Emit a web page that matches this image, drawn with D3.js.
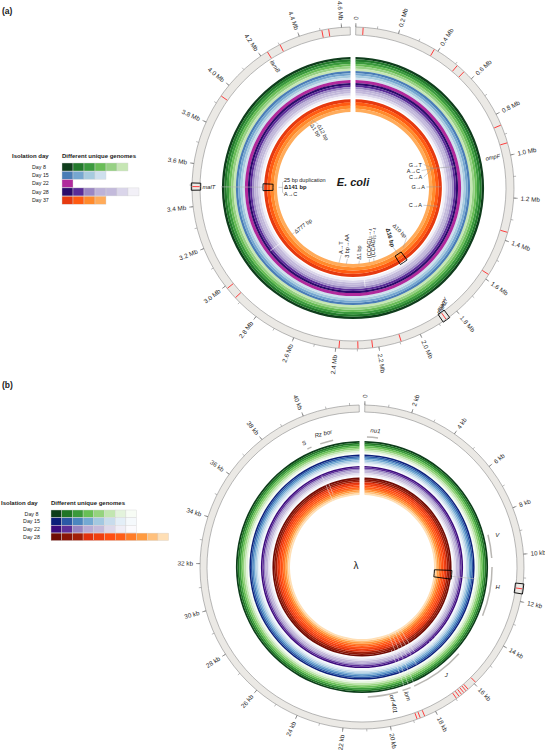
<!DOCTYPE html>
<html><head><meta charset="utf-8">
<script src="https://cdn.jsdelivr.net/npm/d3@7"></script>
<style>
body{margin:0;background:#fff}
text{font-family:"Liberation Sans",Arial,Helvetica,"DejaVu Sans",sans-serif;fill:#1a1a1a}
</style></head>
<body><svg id="c" width="545" height="750"></svg>
<script>
// ================= DATA =================
// ---- Panel (a): E. coli ----
const aGenomeLength = 4.64;
const aTickValues = [0,0.2,0.4,0.6,0.8,1.0,1.2,1.4,1.6,1.8,2.0,2.2,2.4,2.6,2.8,3.0,3.2,3.4,3.6,3.8,4.0,4.2,4.4,4.6];
const aTickLabels = ["0","0.2 Mb","0.4 Mb","0.6 Mb","0.8 Mb","1.0 Mb","1.2 Mb","1.4 Mb","1.6 Mb","1.8 Mb","2.0 Mb","2.2 Mb","2.4 Mb","2.6 Mb","2.8 Mb","3.0 Mb","3.2 Mb","3.4 Mb","3.6 Mb","3.8 Mb","4.0 Mb","4.2 Mb","4.4 Mb","4.6 Mb"];
const aDays = ["Day 8","Day 15","Day 22","Day 28","Day 37"];
const aDay8 = ["#0f3d1c","#237a2c","#3b9a3e","#69bd57","#97d184","#c6e6b4"];
const aDay15 = ["#4a7db6","#76a7d0","#a7cbdf","#cfe0ee"];
const aDay22 = ["#b02a9c"];
const aDay28 = ["#2a0b6a","#5a2c98","#9b87c3","#bdb2d8","#c3badb","#dad5ea","#f2f0f7"];
const aDay37 = ["#e63a10","#ff5b12","#ff8a2c","#ffab5a"];
const aRedMarks = [0.034,0.381,0.511,0.553,0.855,0.942,1.361,1.575,1.862,2.094,2.229,2.297,2.385,2.929,2.986,3.493,3.939,4.236,4.303,4.508,4.540];
const aBoxPositions = [3.493, 1.862];
const aInnerBoxPositions = [3.493, 1.875];
const aGeneNames = ["lamB","ompF","malT","manY","manZ"];
const aGenePos   = [4.230, 0.993, 3.493, 1.830, 1.850];
// annotations: text, position (Mb), radius, rotation, anchor, bold, dy
const aNoteText = ["Δ1 bp","Δ12 bp","Δ777 bp","A→T","3 bp→AA","Δ1 bp","(CCAG)₃→₄","(CCAG)₃→₄","Δ16 bp","Δ10 bp","G→T","A→C","C→A","G→A","C→A","25 bp duplication","Δ141 bp","A→C"];
const aNotePos  = [4.225,4.284,3.004,2.450,2.378,2.255,2.152,2.106,1.878,1.708,0.915,0.969,1.037,1.143,1.332,3.493,3.493,3.493];
const aNoteR    = [76,72,73,67,70,72,72,72,71,72,72.7,69,70,72,71,69,69,69];
const aNoteRot  = [57,61,-37,-90,-90,-90,-90,-90,75,45,0,0,0,0,0,0,0,0];
const aNoteAnchor = ["start","start","start","start","start","start","start","start","end","end","end","end","end","end","end","start","start","start"];
const aNoteBold = [0,0,0,0,0,0,0,0,1,0,0,0,0,0,0,0,1,0];
const aNoteDy   = [0,0,0,0,0,0,0,0,0,0,0,0,0,0,0,-7,0,7];

// ---- Panel (b): lambda ----
const bGenomeLength = 42.4;
const bTickValues = [0,2,4,6,8,10,12,14,16,18,20,22,24,26,28,30,32,34,36,38,40];
const bTickLabels = ["0","2 kb","4 kb","6 kb","8 kb","10 kb","12 kb","14 kb","16 kb","18 kb","20 kb","22 kb","24 kb","26 kb","28 kb","30 kb","32 kb","34 kb","36 kb","38 kb","40 kb"];
const bDays = ["Day 8","Day 15","Day 22","Day 28"];
const bDay8 = ["#0d3d1a","#207526","#3b9a3b","#68bf56","#95d37e","#c2e6b1","#e3f3dc","#f7fcf5"];
const bDay15 = ["#0c1f7a","#2c58a6","#4c86bf","#74a9d3","#a3c8e0","#c8dcec","#e3eef7","#f5f9fc"];
const bDay22 = ["#3b0b7c","#5e2f99","#9885c1","#b8acd5","#c4bada","#ddd8ea","#efedf6","#fbfafd"];
const bDay28 = ["#6f0b04","#891507","#a21f08","#e1320e","#f03f10","#ff4f13","#ff5e18","#ff7c28","#ff9b40","#ffc07c","#ffdfb5"];
const bRedMarks = [11.46,15.92,16.35,16.46,16.58,16.70,16.83,16.97,18.50,18.70,18.84];
const bBoxPos = 11.46;
const bInnerBoxPos = 11.13;
const bGenes = ["nu1","S","Rz bor","V","H","J","lom","orf-401"];
const bGeneStart = [0.14,39.58,40.30,8.84,10.54,15.50,18.60,19.30];
const bGeneEnd   = [0.72,39.81,41.00,10.07,13.15,18.40,19.05,20.90];
const bGeneLabelPos = [0.55,39.55,40.60,8.98,11.52,16.70,18.90,19.65];
const bGeneLabelR   = [137,137,139,139,137,137,132,131];
const bGeneLabelRot = [5,-24,-14,0,0,0,71,78];
const bGeneLabelAnchor = ["middle","middle","middle","middle","middle","middle","start","start"];
// mutation lines inside rings: position (kb), inner radius, outer radius
const bMutPos = [17.45,17.75,18.05,18.35,18.65,18.90,15.70,15.95,16.20,16.45,39.70,39.95];
const bMutR0  = [72,72,72,76,72,88,100,100,100,100,72,78];
const bMutR1  = [100,112,100,126,126,126,106,104,106,104,100,90];

// ================= LAYOUT =================
const svg = d3.select("#c");
const deg = Math.PI/180;
function pt(cx,cy,r,a){ return [cx + r*Math.sin(a), cy - r*Math.cos(a)]; }

function drawPanel(o){
  const g = svg.append("g");
  const {cx,cy} = o;
  const A = d3.scaleLinear().domain([0,o.len]).range([1*deg,359*deg]);
  g.append("path").attr("d", d3.arc()({innerRadius:o.rIn, outerRadius:o.rOut, startAngle:A(0), endAngle:359*deg}))
    .attr("transform",`translate(${cx},${cy})`).attr("fill","#ebe9e5").attr("stroke","#8c8c8c").attr("stroke-width",0.6);
  const minor = d3.range(0, o.len, o.minorStep);
  g.selectAll(null).data(minor).enter().append("line")
    .each(function(v){ const a=A(v); const p0=pt(cx,cy,o.rOut,a), p1=pt(cx,cy,o.rOut+2.5,a);
      d3.select(this).attr("x1",p0[0]).attr("y1",p0[1]).attr("x2",p1[0]).attr("y2",p1[1]); })
    .attr("stroke","#777").attr("stroke-width",0.5);
  g.selectAll(null).data(o.ticks).enter().append("line")
    .each(function(v){ const a=A(v); const p0=pt(cx,cy,o.rOut,a), p1=pt(cx,cy,o.rOut+4,a);
      d3.select(this).attr("x1",p0[0]).attr("y1",p0[1]).attr("x2",p1[0]).attr("y2",p1[1]); })
    .attr("stroke","#666").attr("stroke-width",0.6);
  o.ticks.forEach((v,i)=>{
    const a=A(v), d=a/deg; const p=pt(cx,cy,o.rOut+7,a);
    let rot, anc; if(d<=180){rot=d-90;anc="start";} else {rot=d+90;anc="end";}
    g.append("text").attr("transform",`translate(${p[0]},${p[1]}) rotate(${rot})`)
      .attr("text-anchor",anc).attr("dy","0.35em").attr("font-size",6.3).style("fill","#2a2a2a").text(o.tickLabels[i]);
  });
  g.selectAll(null).data(o.red).enter().append("line")
    .each(function(v){ const a=A(v); const p0=pt(cx,cy,o.rIn+0.4,a), p1=pt(cx,cy,o.rOut-0.4,a);
      d3.select(this).attr("x1",p0[0]).attr("y1",p0[1]).attr("x2",p1[0]).attr("y2",p1[1]); })
    .attr("stroke","#ff2a2a").attr("stroke-width",0.9);
  const tg = g.append("g").attr("transform",`translate(${cx},${cy})`);
  o.groups.forEach((cols,gi)=>{
    const [ro,ri] = o.radii[gi]; const w=(ro-ri)/cols.length;
    cols.forEach((c,k)=>{
      tg.append("path").attr("d", d3.arc().padAngle(5/100).padRadius(100)({innerRadius:ro-(k+1)*w, outerRadius:ro-k*w+0.08, startAngle:0, endAngle:2*Math.PI-1e-4}))
        .attr("fill",c);
    });
  });
  return {g,A};
}

function boxAt(g,cx,cy,a,r0,r1,half){
  g.append("path").attr("d", d3.arc()({innerRadius:r0, outerRadius:r1, startAngle:a-half, endAngle:a+half}))
    .attr("transform",`translate(${cx},${cy})`).attr("fill","none").attr("stroke","#000").attr("stroke-width",0.9);
}
function seg(g,cx,cy,a0,r0,a1,r1,color,w){
  const p0=pt(cx,cy,r0,a0), p1=pt(cx,cy,r1,a1);
  g.append("line").attr("x1",p0[0]).attr("y1",p0[1]).attr("x2",p1[0]).attr("y2",p1[1]).attr("stroke",color).attr("stroke-width",w||0.5);
}

// ================= PANEL A =================
const PA = {cx:353, cy:188, len:aGenomeLength, rIn:153, rOut:161, ticks:aTickValues, tickLabels:aTickLabels, minorStep:0.1,
  red:aRedMarks, groups:[aDay8,aDay15,aDay22,aDay28,aDay37],
  radii:[[131,117],[117,108],[108,105],[105,90.3],[88.8,76]]};
const pa = drawPanel(PA);
{
  const g=pa.g, A=pa.A, cx=PA.cx, cy=PA.cy;
  seg(g,cx,cy,A(3.004),90.5,A(3.004),104,"#ffffff",0.6);
  seg(g,cx,cy,A(2.229),92,A(2.229),100,"#ffffff",0.6);
  seg(g,cx,cy,A(3.493),90,A(3.493),132,"#b5b5b5",0.6);
  const conv=[A(0.975),82.5];
  [[0.915,74.5],[0.969,70.8],[1.037,71.8]].forEach(d=>seg(g,cx,cy,A(d[0]),d[1],conv[0],conv[1],"#999",0.45));
  seg(g,cx,cy,conv[0],conv[1],A(1.0),104,"#999",0.5);
  seg(g,cx,cy,A(1.143),73.5,A(1.143),88,"#999",0.5);
  seg(g,cx,cy,A(1.332),72.5,A(1.310),87,"#999",0.5);
  [[2.450,67],[2.378,70],[2.255,72],[2.152,72],[2.106,72]].forEach(d=>seg(g,cx,cy,A(d[0]),d[1]+1,A(d[0])+0.6*deg,76.5,"#999",0.45));
  seg(g,cx,cy,A(1.878),71.5,A(1.875),80,"#999",0.45);
  seg(g,cx,cy,A(1.708),73,A(1.80),78,"#999",0.45);
  seg(g,cx,cy,A(3.004),73.5,A(3.004),77,"#999",0.45);
  seg(g,cx,cy,A(4.225),76.5,A(4.240),79,"#999",0.45);
  seg(g,cx,cy,A(4.284),72.5,A(4.250),79,"#999",0.45);
  {
    const p=pt(cx,cy,70.5,A(3.493));
    g.append("path").attr("d",`M${p[0]+2.5},${p[1]-7} L${p[0]},${p[1]-5} L${p[0]},${p[1]+5} L${p[0]+2.5},${p[1]+7} M${p[0]},${p[1]} L${p[0]-4},${p[1]}`)
      .attr("fill","none").attr("stroke","#999").attr("stroke-width",0.45);
  }
  boxAt(g,cx,cy,A(aInnerBoxPositions[0]),80,90,2.2*deg);
  boxAt(g,cx,cy,A(aInnerBoxPositions[1]),80,90,2.6*deg);
  boxAt(g,cx,cy,A(aBoxPositions[0]),152.3,161.7,1.3*deg);
  boxAt(g,cx,cy,A(aBoxPositions[1]),152.3,161.7,1.4*deg);
  aNoteText.forEach((t,i)=>{
    const p=pt(cx,cy,aNoteR[i],A(aNotePos[i]));
    g.append("text").attr("transform",`translate(${p[0]},${p[1]+aNoteDy[i]}) rotate(${aNoteRot[i]})`)
      .attr("text-anchor",aNoteAnchor[i]).attr("dy","0.35em").attr("font-size",aNoteBold[i]?5.8:5.5)
      .style("font-family",'"Liberation Sans","DejaVu Sans",sans-serif')
      .attr("font-weight",aNoteBold[i]?"bold":"normal").text(t);
  });
  const gl=(name,pos,r,rot,anc,dy)=>{const p=pt(cx,cy,r,A(pos));
    g.append("text").attr("transform",`translate(${p[0]},${p[1]}) rotate(${rot})`).attr("text-anchor",anc)
      .attr("dy",dy).attr("font-size",5.8).attr("font-style","italic").text(name);};
  gl(aGeneNames[0],aGenePos[0],151,57,"start","0.35em");
  gl(aGeneNames[1],aGenePos[1],150.5,-12,"end","0.35em");
  gl(aGeneNames[2],aGenePos[2],150.5,0,"start","0.35em");
  gl(aGeneNames[3],aGenePos[3],149,-58,"middle","-0.1em");
  gl(aGeneNames[4],aGenePos[4],146,-58,"middle","0.85em");
  g.append("text").attr("x",cx).attr("y",cy-2).attr("text-anchor","middle").attr("font-size",11)
    .attr("font-weight","bold").attr("font-style","italic").text("E. coli");
  svg.append("text").attr("x",2).attr("y",14).attr("font-size",8.5).attr("font-weight","bold").text("(a)");
}

// ================= PANEL B =================
const PB = {cx:362, cy:567, len:bGenomeLength, rIn:155, rOut:162, ticks:bTickValues, tickLabels:bTickLabels, minorStep:1,
  red:bRedMarks, groups:[bDay8,bDay15,bDay22,bDay28],
  radii:[[126,112.5],[112.5,101],[101,89.5],[89.5,72]]};
const pb = drawPanel(PB);
{
  const g=pb.g, A=pb.A, cx=PB.cx, cy=PB.cy;
  bMutPos.forEach((v,i)=>seg(g,cx,cy,A(v),bMutR0[i],A(v),bMutR1[i],"rgba(235,235,235,0.85)",0.6));
  seg(g,cx,cy,A(bInnerBoxPos)+1*deg,90,A(bInnerBoxPos)+1*deg,114,"#bbbbbb",0.6);
  boxAt(g,cx,cy,A(bInnerBoxPos),72.5,90,2.8*deg);
  boxAt(g,cx,cy,A(bBoxPos),154.3,162.7,1.8*deg);
  bGenes.forEach((name,i)=>{
    g.append("path").attr("d", d3.arc()({innerRadius:129.3, outerRadius:130.8, startAngle:A(bGeneStart[i]), endAngle:A(bGeneEnd[i])}))
      .attr("transform",`translate(${cx},${cy})`).attr("fill","#b9b7b3");
    const p=pt(cx,cy,bGeneLabelR[i],A(bGeneLabelPos[i]));
    g.append("text").attr("transform",`translate(${p[0]},${p[1]}) rotate(${bGeneLabelRot[i]})`)
      .attr("text-anchor",bGeneLabelAnchor[i]).attr("dy","0.35em").attr("font-size",6).attr("font-style","italic").text(name);
  });
  g.append("text").attr("x",cx-6).attr("y",cy+2).attr("text-anchor","middle").attr("font-size",10).text("λ");
  svg.append("text").attr("x",2).attr("y",388).attr("font-size",8.5).attr("font-weight","bold").text("(b)");
}

// ================= LEGENDS =================
function legend(o){
  const g=svg.append("g");
  g.append("text").attr("x",o.hx1).attr("y",o.hy).attr("font-size",6).attr("font-weight","bold").text("Isolation day");
  g.append("text").attr("x",o.sx).attr("y",o.hy).attr("font-size",6).attr("font-weight","bold").text("Different unique genomes");
  o.days.forEach((d,i)=>{
    const y=o.y0+i*o.step;
    g.append("text").attr("x",o.lx).attr("y",y+o.h/2).attr("dy","0.35em").attr("text-anchor",o.lanchor)
      .attr("font-size",5.3).text(d);
    g.selectAll(null).data(o.colors[i]).enter().append("rect")
      .attr("x",(c,k)=>o.sx+k*o.w).attr("y",y).attr("width",o.w).attr("height",o.h)
      .attr("fill",c=>c).attr("stroke","#d4d4d4").attr("stroke-width",0.4);
  });
}
legend({days:aDays,colors:[aDay8,aDay15,aDay22,aDay28,aDay37],hx1:12,hy:157.5,sx:62,lx:32,lanchor:"start",y0:163,step:8.3,w:11,h:8});
legend({days:bDays,colors:[bDay8,bDay15,bDay22,bDay28],hx1:1,hy:505,sx:51,lx:31.5,lanchor:"middle",y0:510,step:7.7,w:10.7,h:7.5});
</script></body></html>
